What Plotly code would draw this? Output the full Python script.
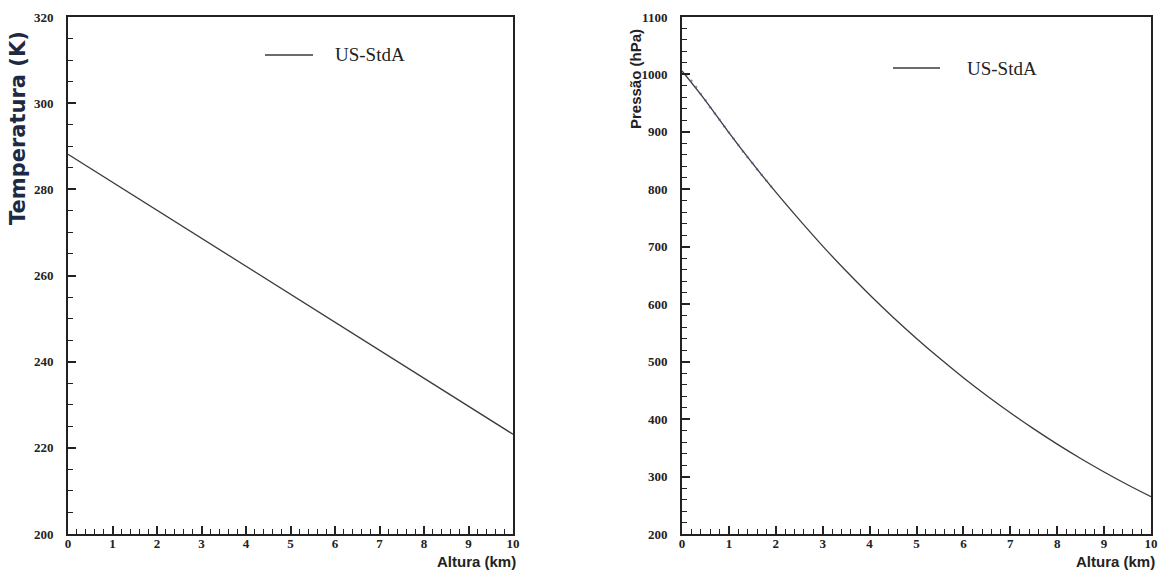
import plotly.graph_objects as go

# Altitude grid (km)
altura_km = [0.0, 0.5, 1.0, 1.5, 2.0, 2.5, 3.0, 3.5, 4.0, 4.5, 5.0,
             5.5, 6.0, 6.5, 7.0, 7.5, 8.0, 8.5, 9.0, 9.5, 10.0]

# US Standard Atmosphere temperature (K)
temperatura_k = [288.15, 284.9, 281.65, 278.4, 275.15, 271.9, 268.65, 265.4,
                 262.15, 258.9, 255.65, 252.4, 249.15, 245.9, 242.65, 239.4,
                 236.15, 232.9, 229.65, 226.4, 223.15]

# US Standard Atmosphere pressure (hPa)
pressao_hpa = [1006.0, 954.6, 898.8, 845.6, 795.0, 747.2, 701.2, 657.8,
               616.6, 577.5, 540.5, 505.4, 472.2, 440.8, 411.1, 383.0,
               356.5, 331.5, 308.0, 285.8, 265.0]

# Sampled pressure points in the lowest 2 km
altura_amostra_km = [0.1, 0.2, 0.3, 0.4, 0.5, 0.6, 0.7, 0.8, 0.9, 1.0,
                     1.1, 1.2, 1.3, 1.4, 1.5, 1.6, 1.7, 1.8, 1.9]
pressao_amostra_hpa = [1000, 989, 978, 966, 955, 943, 932, 921, 910, 899,
                       888, 877, 866, 856, 846, 835, 825, 815, 805]

serie_nome = "US-StdA"

W, H = 1159, 570
LINE = "#3a3a3a"
AX = "#222222"

fig = go.Figure()

fig.add_trace(go.Scatter(
    x=altura_km, y=temperatura_k, mode="lines", name=serie_nome,
    line=dict(color=LINE, width=1.3), xaxis="x", yaxis="y", showlegend=False,
))
fig.add_trace(go.Scatter(
    x=altura_km, y=pressao_hpa, mode="lines", name=serie_nome,
    line=dict(color=LINE, width=1.3, shape="spline"), xaxis="x2", yaxis="y2",
    showlegend=False,
))
fig.add_trace(go.Scatter(
    x=altura_amostra_km, y=pressao_amostra_hpa, mode="markers",
    marker=dict(color="#6c4f93", size=2.5, opacity=0.7),
    xaxis="x2", yaxis="y2", showlegend=False,
))

tickfont = dict(family="Liberation Serif", size=13, color=AX, weight="bold")
titlefont = dict(family="Liberation Sans", size=15, color=AX, weight="bold")


def xaxis_cfg(domain, anchor):
    return dict(
        domain=domain, anchor=anchor, range=[0, 10], dtick=1, tick0=0,
        showline=True, linecolor=AX, linewidth=2, mirror=True,
        ticks="inside", ticklen=8, tickwidth=1.5, tickcolor=AX,
        minor=dict(dtick=0.2, ticks="inside", ticklen=5, tickwidth=1.2,
                   tickcolor=AX, showgrid=False),
        showgrid=False, zeroline=False, tickfont=tickfont,
        ticklabelstandoff=-4, automargin=False,
    )


def yaxis_cfg(domain, anchor, rng, dtick, minor_dtick):
    return dict(
        domain=domain, anchor=anchor, range=rng, dtick=dtick, tick0=rng[0],
        showline=True, linecolor=AX, linewidth=2, mirror=True,
        ticks="inside", ticklen=8, tickwidth=1.5, tickcolor=AX,
        minor=dict(dtick=minor_dtick, ticks="inside", ticklen=5, tickwidth=1.2,
                   tickcolor=AX, showgrid=False),
        showgrid=False, zeroline=False, tickfont=tickfont,
        ticklabelstandoff=10, automargin=False,
    )


ydom = [1 - 534 / H, 1 - 17 / H]

fig.update_layout(
    width=W, height=H,
    margin=dict(l=0, r=0, t=0, b=0, autoexpand=False),
    paper_bgcolor="white", plot_bgcolor="white",
    xaxis=xaxis_cfg([68 / W, 513 / W], "y"),
    yaxis=yaxis_cfg(ydom, "x", [200, 320], 20, 5),
    xaxis2=xaxis_cfg([682 / W, 1151 / W], "y2"),
    yaxis2=yaxis_cfg(ydom, "x2", [200, 1100], 100, 20),
    showlegend=False,
)

# Legend keys drawn as a short line plus label in each panel
for (x0, x1, yk, xt) in [(265, 313, 55, 333), (893, 940, 68, 965)]:
    fig.add_shape(type="line", xref="paper", yref="paper",
                  x0=x0 / W, x1=x1 / W, y0=1 - yk / H, y1=1 - yk / H,
                  line=dict(color=LINE, width=1.5))
    fig.add_annotation(text=serie_nome, x=xt / W, y=1 - yk / H,
                       xref="paper", yref="paper", xanchor="left",
                       yanchor="middle", showarrow=False,
                       font=dict(family="Liberation Serif", size=19, color=AX))

# Axis titles placed as annotations
fig.add_annotation(text="Temperatura (K)", x=18 / W, y=1 - 128 / H,
                   xref="paper", yref="paper", textangle=-90, showarrow=False,
                   xanchor="center", yanchor="middle",
                   font=dict(family="DejaVu Sans", size=21, color="#1e2a44",
                             weight="bold"))
fig.add_annotation(text="Pressão (hPa)", x=636 / W, y=1 - 79 / H,
                   xref="paper", yref="paper", textangle=-90, showarrow=False,
                   xanchor="center", yanchor="middle", font=titlefont)
for xc in (476, 1115):
    fig.add_annotation(text="Altura (km)", x=xc / W, y=1 - 561 / H,
                       xref="paper", yref="paper", showarrow=False,
                       xanchor="center", yanchor="middle",
                       font=titlefont)

fig.write_html("out.html")
